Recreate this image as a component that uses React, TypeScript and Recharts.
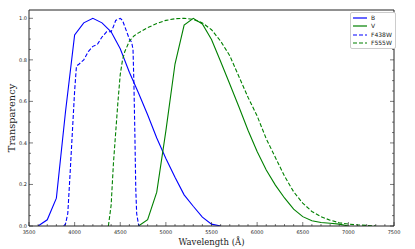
import React from 'react';
import { LineChart, Line, XAxis, YAxis } from 'recharts';

// Johnson B (blue, solid)
const B_WAVE = [3600, 3700, 3800, 3900, 4000, 4100, 4200, 4300, 4400, 4500, 4600, 4700, 4800, 4900, 5000, 5100, 5200, 5300, 5400, 5500, 5600];
const B_TRANS = [0, 0.03, 0.134, 0.55, 0.92, 0.978, 1.0, 0.978, 0.935, 0.853, 0.74, 0.64, 0.536, 0.424, 0.325, 0.235, 0.15, 0.095, 0.043, 0.009, 0];

// Johnson V (green, solid)
const V_WAVE = [4700, 4800, 4900, 5000, 5100, 5200, 5300, 5400, 5500, 5600, 5700, 5800, 5900, 6000, 6100, 6200, 6300, 6400, 6500, 6600, 6700, 6800, 6900, 7000];
const V_TRANS = [0, 0.03, 0.163, 0.458, 0.78, 0.967, 1.0, 0.973, 0.898, 0.792, 0.684, 0.574, 0.461, 0.359, 0.27, 0.197, 0.135, 0.081, 0.045, 0.025, 0.017, 0.013, 0.009, 0];

// HST F438W (blue, dashed)
const F438_WAVE = [3880, 3900, 3925, 3950, 3975, 4000, 4020, 4050, 4100, 4150, 4200, 4250, 4300, 4350, 4400, 4425, 4450, 4500, 4525, 4550, 4575, 4600, 4625, 4640, 4650, 4660, 4670, 4680, 4700, 4710];
const F438_TRANS = [0, 0.01, 0.06, 0.25, 0.45, 0.65, 0.77, 0.78, 0.8, 0.84, 0.865, 0.875, 0.91, 0.935, 0.935, 0.96, 0.99, 1.0, 0.99, 0.96, 0.93, 0.9, 0.885, 0.85, 0.68, 0.45, 0.18, 0.06, 0.008, 0];

// HST F555W (green, dashed)
const F555_WAVE = [4370, 4400, 4425, 4450, 4475, 4500, 4525, 4550, 4600, 4650, 4700, 4800, 4900, 5000, 5100, 5200, 5300, 5400, 5500, 5600, 5700, 5800, 5900, 6000, 6100, 6200, 6300, 6400, 6500, 6600, 6700, 6800, 6900, 7000, 7100, 7200, 7300];
const F555_TRANS = [0, 0.1, 0.3, 0.45, 0.6, 0.73, 0.8, 0.84, 0.89, 0.915, 0.93, 0.955, 0.975, 0.99, 0.998, 1.0, 0.995, 0.978, 0.945, 0.89, 0.82, 0.72, 0.62, 0.53, 0.42, 0.33, 0.24, 0.165, 0.11, 0.07, 0.045, 0.028, 0.016, 0.009, 0.005, 0.003, 0];

const X_MAJOR = [3500, 4000, 4500, 5000, 5500, 6000, 6500, 7000, 7500];
const Y_MAJOR = [0, 0.2, 0.4, 0.6, 0.8, 1.0];

const X_MINOR: number[] = [];
for (let w = 3500; w <= 7500; w += 100) X_MINOR.push(w);
const Y_MINOR: number[] = [];
for (let i = 0; i <= 20; i++) Y_MINOR.push(i / 20);

const BLUE = '#0000ff';
const GREEN = '#008000';
const AXIS = '#222';

const toSeries = (wave: number[], trans: number[]) => wave.map((w, i) => ({ w, t: trans[i] }));

const SERIES = [
  { name: 'B', data: toSeries(B_WAVE, B_TRANS), color: BLUE, dash: undefined },
  { name: 'V', data: toSeries(V_WAVE, V_TRANS), color: GREEN, dash: undefined },
  { name: 'F438W', data: toSeries(F438_WAVE, F438_TRANS), color: BLUE, dash: '4 2' },
  { name: 'F555W', data: toSeries(F555_WAVE, F555_TRANS), color: GREEN, dash: '4 2' },
];

const isMajorX = (v: number) => X_MAJOR.includes(v);
const isMajorY = (v: number) => Y_MAJOR.some((m) => Math.abs(m - v) < 1e-6);

// ticks point inward, matplotlib style
function BottomTick({ x, y, payload }: any) {
  const major = isMajorX(payload.value);
  return (
    <g>
      <line x1={x} x2={x} y1={y} y2={y - (major ? 4 : 2)} stroke={AXIS} strokeWidth={0.6} />
      {major && (
        <text x={x} y={y + 7.5} textAnchor="middle" fontSize={5} fontFamily="DejaVu Sans" fill="#222">
          {payload.value}
        </text>
      )}
    </g>
  );
}

function TopTick({ x, y, payload }: any) {
  const major = isMajorX(payload.value);
  return <line x1={x} x2={x} y1={y} y2={y + (major ? 4 : 2)} stroke={AXIS} strokeWidth={0.6} />;
}

function LeftTick({ x, y, payload }: any) {
  const major = isMajorY(payload.value);
  return (
    <g>
      <line x1={x} x2={x + (major ? 4 : 2)} y1={y} y2={y} stroke={AXIS} strokeWidth={0.6} />
      {major && (
        <text x={x - 2} y={y + 1.8} textAnchor="end" fontSize={5} fontFamily="DejaVu Sans" fill="#222">
          {payload.value.toFixed(1)}
        </text>
      )}
    </g>
  );
}

function RightTick({ x, y, payload }: any) {
  const major = isMajorY(payload.value);
  return <line x1={x} x2={x - (major ? 4 : 2)} y1={y} y2={y} stroke={AXIS} strokeWidth={0.6} />;
}

function FilterLegend() {
  return (
    <div
      style={{
        position: 'absolute',
        left: 350,
        top: 12,
        border: '1px solid #ccc',
        borderRadius: 2,
        background: '#fff',
        padding: '1px 3px 1px 2px',
        fontFamily: 'DejaVu Sans',
        fontSize: 6,
        lineHeight: '8.3px',
        color: '#222',
      }}
    >
      {SERIES.map((s) => (
        <div key={s.name} style={{ display: 'flex', alignItems: 'center' }}>
          <svg width={14} height={4} style={{ marginRight: 4 }}>
            <line x1={0} x2={14} y1={2} y2={2} stroke={s.color} strokeWidth={1.2} strokeDasharray={s.dash} />
          </svg>
          <span>{s.name}</span>
        </div>
      ))}
    </div>
  );
}

export default function App() {
  return (
    <div style={{ position: 'fixed', left: 0, top: 0, width: 415, height: 249, background: '#fff' }}>
      <LineChart width={415} height={249} margin={{ top: 9, right: 20, bottom: 0, left: 0 }}>
        <XAxis
          xAxisId="bottom"
          dataKey="w"
          type="number"
          orientation="bottom"
          domain={[3500, 7500]}
          ticks={X_MINOR}
          interval={0}
          tick={<BottomTick />}
          tickLine={false}
          tickSize={0}
          tickMargin={0}
          height={23}
          stroke={AXIS}
          allowDataOverflow
          label={{
            content: ({ viewBox }: any) => (
              <text
                x={viewBox.x + viewBox.width / 2}
                y={viewBox.y + 19}
                textAnchor="middle"
                fontSize={8.5}
                fontFamily="DejaVu Serif"
                fill="#222"
              >
                Wavelength (Å)
              </text>
            ),
          }}
        />
        <XAxis
          xAxisId="top"
          type="number"
          orientation="top"
          domain={[3500, 7500]}
          ticks={X_MINOR}
          interval={0}
          tick={<TopTick />}
          tickLine={false}
          tickSize={0}
          tickMargin={0}
          height={1}
          stroke={AXIS}
          allowDataOverflow
        />
        <YAxis
          yAxisId="left"
          type="number"
          orientation="left"
          domain={[0, 1.04]}
          ticks={Y_MINOR}
          interval={0}
          tick={<LeftTick />}
          tickLine={false}
          tickSize={0}
          tickMargin={0}
          width={29}
          stroke={AXIS}
          allowDataOverflow
          label={{
            content: ({ viewBox }: any) => {
              const cx = 11;
              const cy = viewBox.y + viewBox.height / 2;
              return (
                <text
                  x={cx}
                  y={cy}
                  transform={`rotate(-90 ${cx} ${cy})`}
                  textAnchor="middle"
                  dominantBaseline="central"
                  fontSize={9.8}
                  fontFamily="DejaVu Serif"
                  fill="#222"
                >
                  Transparency
                </text>
              );
            },
          }}
        />
        <YAxis
          yAxisId="right"
          type="number"
          orientation="right"
          domain={[0, 1.04]}
          ticks={Y_MINOR}
          interval={0}
          tick={<RightTick />}
          tickLine={false}
          tickSize={0}
          tickMargin={0}
          width={1}
          stroke={AXIS}
          allowDataOverflow
        />
        {SERIES.map((s) => (
          <Line
            key={s.name}
            name={s.name}
            xAxisId="bottom"
            yAxisId="left"
            data={s.data}
            dataKey="t"
            type="linear"
            stroke={s.color}
            strokeWidth={1.1}
            strokeDasharray={s.dash}
            dot={false}
            activeDot={false}
            isAnimationActive={false}
          />
        ))}
      </LineChart>
      <FilterLegend />
    </div>
  );
}
